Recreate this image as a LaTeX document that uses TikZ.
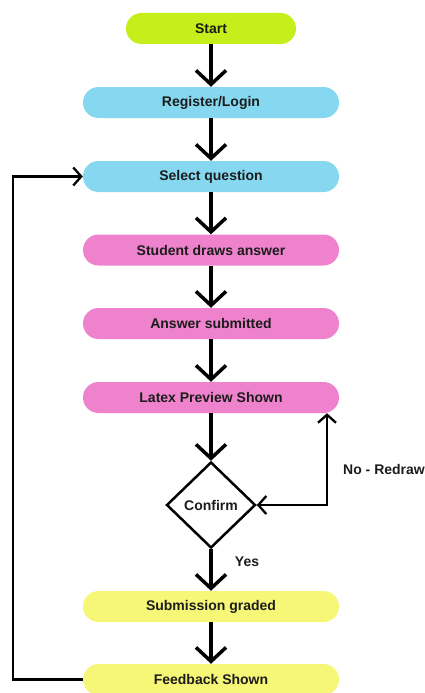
\documentclass[tikz,border=0pt]{standalone}
\usepackage{fontspec}
\setmainfont{Liberation Sans}
\usetikzlibrary{arrows.meta,shapes.geometric}
\definecolor{limefill}{HTML}{C6EE1A}
\definecolor{bluefill}{HTML}{85D8EF}
\definecolor{pinkfill}{HTML}{EE82CC}
\definecolor{yellowfill}{HTML}{F6F776}
\definecolor{ink}{HTML}{1C1C1C}
\tikzset{
  x=1pt, y=-1pt,
  every node/.style={font=\fontsize{14}{16}\selectfont\bfseries, text=ink},
  pill/.style={rounded corners=15.5pt, minimum width=256pt, minimum height=31pt, inner sep=0pt},
  flow/.style={line width=3.5pt, -{Straight Barb[length=14pt,width=30pt]}},
  loopline/.style={line width=2.3pt},
  looptip/.tip={Straight Barb[length=8pt,width=18pt]},
}
\begin{document}
\begin{tikzpicture}
\useasboundingbox (0,0) rectangle (425,693);
% process steps
\node[pill, fill=limefill, minimum width=170pt] (start) at (211,28.5) {Start};
\node[pill, fill=bluefill] (reg) at (211,102.5) {Register/Login};
\node[pill, fill=bluefill] (sel) at (211,176.5) {Select question};
\node[pill, fill=pinkfill] (stud) at (211,250) {Student draws answer};
\node[pill, fill=pinkfill] (sub) at (211,323.5) {Answer submitted};
\node[pill, fill=pinkfill] (prev) at (211,397.5) {Latex Preview Shown};
\node[diamond, draw=black, line width=2.5pt, aspect=1, minimum width=89pt, minimum height=86pt, inner sep=0pt] (conf) at (211,505) {Confirm};
\node[pill, fill=yellowfill] (grade) at (211,606.5) {Submission graded};
\node[pill, fill=yellowfill] (fb) at (211,679.5) {Feedback Shown};
% labels
\node (yes) at (247,562) {Yes};
\node (redraw) at (384,469) {No - Redraw};
% main flow
\draw[flow] (start) -- (reg);
\draw[flow] (reg) -- (sel);
\draw[flow] (sel) -- (stud);
\draw[flow] (stud) -- (sub);
\draw[flow] (sub) -- (prev);
\draw[flow] (prev) -- (conf);
\draw[flow] (conf) -- (grade);
\draw[flow] (grade) -- (fb);
% redraw loop back to the preview
\draw[loopline, looptip-looptip] (conf.east) -| ([xshift=116pt]prev.south);
% feedback loop back to question selection
\draw[loopline, -looptip] (fb.west) -- ++(-70,0) |- (sel.west);
\end{tikzpicture}
\end{document}
